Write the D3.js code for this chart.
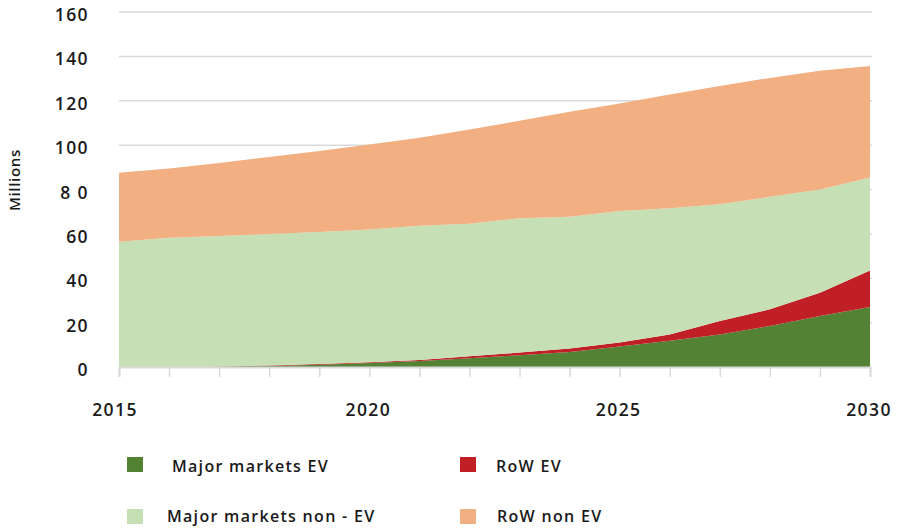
<!DOCTYPE html>
<html>
<head>
<meta charset="utf-8">
<script src="https://cdn.jsdelivr.net/npm/d3@7"></script>
<style>
  html, body { margin: 0; padding: 0; background: #fff; }
  svg text { font-family: "Open Sans", sans-serif; fill: #1a1a1a; }
</style>
</head>
<body>
<svg id="chart" width="904" height="529"></svg>
<script>
// ---- data ----
const years = [2015,2016,2017,2018,2019,2020,2021,2022,2023,2024,2025,2026,2027,2028,2029,2030];
const majorEV     = [0, 0, 0.1, 0.5, 1.0, 1.8, 2.7, 4.0, 5.3, 6.8, 9.2, 11.8, 14.7, 18.5, 23.0, 27.0];
const rowEV       = [0, 0, 0.1, 0.2, 0.3, 0.3, 0.4, 0.8, 1.2, 1.5, 1.8, 2.9, 6.0, 7.5, 10.5, 16.5];
const majorNonEV  = [56.5, 58.2, 58.8, 59.3, 59.5, 59.9, 60.6, 59.8, 60.5, 59.4, 59.3, 56.8, 52.6, 50.7, 46.5, 41.9];
const rowNonEV    = [31.1, 31.3, 33.0, 34.7, 36.5, 38.3, 39.6, 42.4, 44.0, 47.3, 48.5, 51.3, 53.4, 53.6, 53.5, 50.3];
const seriesNames = ["Major markets EV", "RoW EV", "Major markets non - EV", "RoW non EV"];
const seriesKeys  = ["majorEV", "rowEV", "majorNonEV", "rowNonEV"];
const colors      = ["#548235", "#C01F26", "#C6DFB4", "#F2AF82"];
const yTicks      = [0, 20, 40, 60, 80, 100, 120, 140, 160];
const yTickLabels = ["0", "20", "40", "60", "8 0", "100", "120", "140", "160"];
const xTickLabels = [2015, 2020, 2025, 2030];
const yAxisTitle  = "Millions";

const table = years.map((y, i) => ({
  year: y, majorEV: majorEV[i], rowEV: rowEV[i], majorNonEV: majorNonEV[i], rowNonEV: rowNonEV[i]
}));

// ---- layout ----
const svg = d3.select("#chart");
const x = d3.scaleLinear().domain([2015, 2030]).range([119, 870]);
const y = d3.scaleLinear().domain([0, 160]).range([367, 12]);

// gridlines
svg.append("g").selectAll("line").data(yTicks.slice(1)).join("line")
  .attr("x1", x(2015)).attr("x2", x(2030) + 2)
  .attr("y1", d => y(d)).attr("y2", d => y(d))
  .attr("stroke", "#D9D9D9").attr("stroke-width", 1.5);

// stacked areas
const stack = d3.stack().keys(seriesKeys);
const layers = stack(table);
const area = d3.area()
  .x(d => x(d.data.year))
  .y0(d => y(d[0]))
  .y1(d => y(d[1]));
svg.append("g").selectAll("path").data(layers).join("path")
  .attr("d", area)
  .attr("fill", (d, i) => colors[i]);

// x axis
const xAxis = d3.axisBottom(x).tickValues(years).tickSize(10).tickFormat("");
const gx = svg.append("g").attr("transform", `translate(0,${y(0)})`).call(xAxis);
gx.select(".domain").attr("stroke", "#D9D9D9").attr("stroke-width", 2);
gx.selectAll(".tick line").attr("stroke", "#D9D9D9").attr("stroke-width", 1.5);

svg.append("g").selectAll("text").data(xTickLabels).join("text")
  .attr("x", d => x(d) - (d === 2015 ? 4 : 1))
  .attr("y", 416)
  .attr("text-anchor", "middle")
  .attr("font-size", 17.5).attr("font-weight", 600).attr("letter-spacing", 1.4)
  .text(d => d);

// y axis labels
svg.append("g").selectAll("text").data(yTicks).join("text")
  .attr("x", 89)
  .attr("y", d => y(d) + 9)
  .attr("text-anchor", "end")
  .attr("font-size", 17.5).attr("font-weight", 600).attr("letter-spacing", 1.4)
  .text((d, i) => yTickLabels[i]);

// y axis title
svg.append("text")
  .attr("transform", "translate(20,180) rotate(-90)")
  .attr("text-anchor", "middle")
  .attr("font-size", 15).attr("font-weight", 600).attr("letter-spacing", 0.7)
  .text(yAxisTitle);

// legend
const legendPos = [
  { sx: 127, sy: 457, tx: 172, ty: 472 },
  { sx: 460, sy: 457, tx: 496, ty: 472 },
  { sx: 127, sy: 509, tx: 167, ty: 522 },
  { sx: 460, sy: 509, tx: 497, ty: 522 }
];
const lg = svg.append("g");
seriesNames.forEach((name, i) => {
  const p = legendPos[i];
  lg.append("rect").attr("x", p.sx).attr("y", p.sy).attr("width", 16).attr("height", 15).attr("fill", colors[i]);
  lg.append("text").attr("x", p.tx).attr("y", p.ty)
    .attr("font-size", 16).attr("font-weight", 600).attr("letter-spacing", 1.3)
    .text(name);
});
</script>
</body>
</html>
